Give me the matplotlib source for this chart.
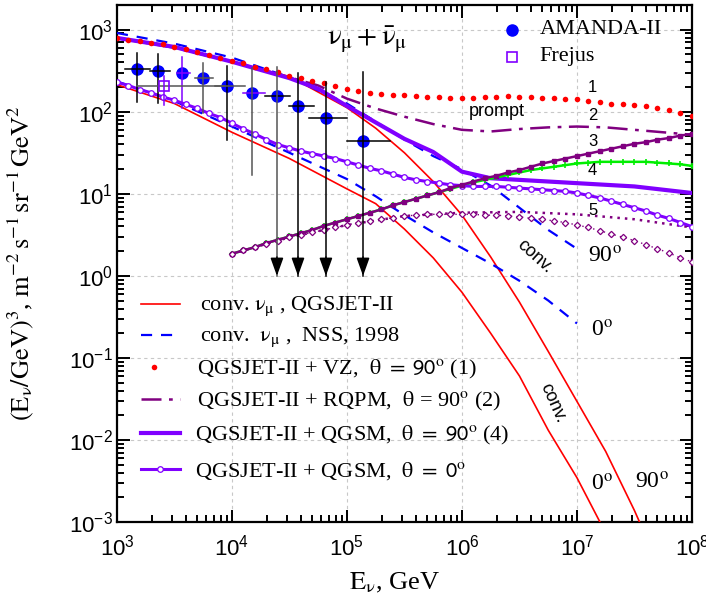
import numpy as np
import matplotlib
matplotlib.use('Agg')
import matplotlib.pyplot as plt
from matplotlib.ticker import LogLocator, NullFormatter
from matplotlib.lines import Line2D

plt.rcParams.update({
    'font.family': 'Liberation Sans',
    'mathtext.fontset': 'stix',
    'font.size': 15,
})

SERIF = 'Liberation Serif'
RED = '#ff0000'
BLUE = '#0000ff'
PURPLE = '#800080'
VIOLET = '#8000ff'
GREEN = '#00ee00'
GRAY = '#555555'

# ── curves: log10(E/GeV) and log10 of E^3 * flux ──────────────
lgE_conv = [3.0, 3.5, 4.0, 4.5, 5.0, 5.25, 5.5, 5.75, 6.0, 6.25, 6.5, 6.75, 7.0, 7.25, 7.5, 7.56]
conv_qgs_90 = [2.90, 2.78, 2.61, 2.43, 2.05, 1.80, 1.50, 1.15, 0.74, 0.23, -0.32, -0.92, -1.53, -2.14, -2.86, -3.05]

lgE_conv0 = [3.0, 3.5, 4.0, 4.5, 5.0, 5.25, 5.5, 5.75, 6.0, 6.25, 6.5, 6.75, 7.0, 7.2]
conv_qgs_0 = [2.33, 2.10, 1.75, 1.43, 1.06, 0.88, 0.57, 0.22, -0.20, -0.70, -1.22, -1.88, -2.46, -3.0]

lgE_nss = [3.0, 3.5, 4.0, 4.5, 5.0, 5.25, 5.5, 5.75, 6.0, 6.25, 6.5, 6.75, 7.0]
conv_nss_90 = [2.96, 2.83, 2.66, 2.42, 2.10, 1.88, 1.66, 1.46, 1.30, 1.10, 0.83, 0.56, 0.33]
conv_nss_0 = [2.37, 2.13, 1.82, 1.50, 1.18, 0.97, 0.74, 0.53, 0.34, 0.15, -0.06, -0.30, -0.58]

lgE_tot = [3.0, 3.5, 4.0, 4.5, 4.75, 5.0, 5.25, 5.5, 5.75, 6.0, 6.25, 6.5, 6.75, 7.0, 7.25, 7.5, 7.75, 8.0]
rqpm_90 = [2.90, 2.78, 2.61, 2.42, 2.32, 2.16, 2.04, 1.94, 1.85, 1.78, 1.76, 1.79, 1.81, 1.82, 1.81, 1.78, 1.75, 1.72]
qgsm_90 = [2.90, 2.79, 2.61, 2.41, 2.28, 2.07, 1.87, 1.67, 1.51, 1.27, 1.19, 1.17, 1.15, 1.13, 1.11, 1.09, 1.05, 1.01]

# marker curves, read every 0.1 decade
lgE_fine = np.round(np.arange(3.0, 8.01, 0.1), 1)
vz_90 = [2.90, 2.88, 2.86, 2.84, 2.82, 2.79, 2.76, 2.73, 2.69, 2.66,
         2.62, 2.59, 2.55, 2.52, 2.48, 2.44, 2.41, 2.38, 2.35, 2.31,
         2.28, 2.25, 2.23, 2.22, 2.21, 2.20, 2.19, 2.18, 2.18, 2.17,
         2.17, 2.17, 2.18, 2.18, 2.19, 2.18, 2.18, 2.17, 2.17, 2.16,
         2.15, 2.13, 2.12, 2.10, 2.09, 2.08, 2.07, 2.05, 2.02, 1.99, 1.95]
qgsm_0 = [2.36, 2.32, 2.27, 2.23, 2.18, 2.14, 2.09, 2.04, 1.98, 1.93,
          1.86, 1.79, 1.73, 1.66, 1.60, 1.56, 1.52, 1.49, 1.46, 1.43,
          1.39, 1.35, 1.31, 1.28, 1.24, 1.20, 1.17, 1.15, 1.13, 1.11,
          1.10, 1.09, 1.09, 1.09, 1.08, 1.07, 1.06, 1.05, 1.04, 1.03,
          1.01, 0.98, 0.95, 0.91, 0.87, 0.83, 0.79, 0.74, 0.70, 0.65, 0.60]

# prompt-only curves (3, 4, 5), from 10^4 GeV
lgE_pr = np.round(np.arange(4.0, 8.01, 0.1), 1)
prompt_3 = [0.27, 0.31, 0.35, 0.40, 0.44, 0.48, 0.52, 0.56, 0.61, 0.65,
            0.69, 0.73, 0.77, 0.81, 0.86, 0.90, 0.94, 0.98, 1.02, 1.07,
            1.11, 1.15, 1.19, 1.22, 1.26, 1.29, 1.33, 1.37, 1.40, 1.43,
            1.46, 1.49, 1.52, 1.55, 1.58, 1.61, 1.63, 1.66, 1.68, 1.71, 1.73]
prompt_4 = [0.27, 0.31, 0.35, 0.40, 0.44, 0.48, 0.52, 0.56, 0.61, 0.65,
            0.69, 0.73, 0.77, 0.81, 0.86, 0.90, 0.94, 0.98, 1.02, 1.06,
            1.10, 1.14, 1.17, 1.20, 1.23, 1.26, 1.29, 1.31, 1.33, 1.35,
            1.37, 1.38, 1.39, 1.39, 1.39, 1.39, 1.39, 1.38, 1.37, 1.36, 1.34]
prompt_5d = [0.27, 0.31, 0.35, 0.39, 0.43, 0.47, 0.50, 0.53, 0.56, 0.59,
             0.62, 0.65, 0.67, 0.69, 0.71, 0.73, 0.74, 0.75, 0.75, 0.75,
             0.75, 0.75, 0.74, 0.74, 0.73, 0.72, 0.70, 0.69, 0.67, 0.65,
             0.62, 0.59, 0.55, 0.51, 0.47, 0.43, 0.38, 0.33, 0.28, 0.22, 0.17]
lgE_p5 = [4.0, 4.5, 5.0, 5.5, 6.0, 6.5, 7.0, 7.5, 8.0]
prompt_5 = [0.27, 0.47, 0.62, 0.73, 0.77, 0.78, 0.75, 0.69, 0.59]

# ── AMANDA-II unfolded spectrum ──────────────────────────────
am_E = [1490, 2280, 3670, 5600, 9060, 14900, 24600, 37500, 65600, 138000]
am_F = [334, 316, 299, 260, 208, 171, 157, 118, 84.5, 44.3]
am_Elo = [1170, 1940, 3330, 4770, 7120, 12500, 19400, 31300, 46800, 100000]
am_Ehi = [1940, 2890, 4310, 6840, 13000, 19400, 31900, 51600, 100000, 237000]
am_Flo = [132, 129, 112, 97, 45, 17, 1.0, 1.0, 1.0, 1.0]
am_Fhi = [525, 509, 469, 396, 365, 344, 354, 299, 232, 308]
am_limit = [False] * 6 + [True] * 4
am_xcol = ['k', 'k', VIOLET, GRAY, GRAY, VIOLET, 'k', 'k', 'k', 'k']
am_ycol = ['k', 'k', VIOLET, GRAY, 'k', GRAY, GRAY, 'k', 'k', 'k']

fr_E, fr_F = 2570, 208
fr_Elo, fr_Ehi = 1490, 9230
fr_Flo, fr_Fhi = 122, 274


def p(lg):
    return 10 ** np.asarray(lg, dtype=float)


fig = plt.figure(figsize=(7.06, 5.99), dpi=100)
ax = fig.add_axes([0.1657, 0.1285, 0.8144, 0.8631])
ax.set_xscale('log')
ax.set_yscale('log')
ax.set_xlim(1e3, 1e8)
ax.set_ylim(1e-3, 2.0e3)

ax.grid(True, which='major', color='#c8c8c8', linestyle=(0, (3, 3)), linewidth=0.8)

# conventional
ax.plot(p(lgE_conv), p(conv_qgs_90), color=RED, lw=1.2, zorder=3)
ax.plot(p(lgE_conv0), p(conv_qgs_0), color=RED, lw=1.2, zorder=3)
ax.plot(p(lgE_nss), p(conv_nss_90), color=BLUE, lw=1.6, dashes=(5, 4), zorder=3)
ax.plot(p(lgE_nss), p(conv_nss_0), color=BLUE, lw=1.6, dashes=(5, 4), zorder=3)

# conventional + prompt
ax.plot(p(lgE_fine), p(vz_90), ls='none', marker='o', ms=4, color=RED, mec='none', zorder=4)
ax.plot(p(lgE_tot), p(rqpm_90), color=PURPLE, lw=1.8, dashes=(8, 3, 1.5, 3), zorder=3)
ax.plot(p(lgE_tot), p(qgsm_90), color=VIOLET, lw=3.0, zorder=3)
ax.plot(p(lgE_fine), p(qgsm_0), color=VIOLET, lw=2.2, marker='o', ms=4, mfc='white',
        mec=VIOLET, mew=0.9, zorder=4)

# prompt only
ax.plot(p(lgE_pr), p(prompt_4), color=GREEN, lw=1.8, marker='+', ms=5, mew=1.2, zorder=3)
ax.plot(p(lgE_pr), p(prompt_3), color=PURPLE, lw=1.8, marker='s', ms=3.5, zorder=4)
ax.plot(p(lgE_p5), p(prompt_5), color=PURPLE, lw=1.8, dashes=(1, 2), zorder=3)
ax.plot(p(lgE_pr), p(prompt_5d), color=PURPLE, ls=(0, (1, 3)), lw=1.0, marker='D', ms=3.2,
        mfc='white', mec=PURPLE, mew=0.9, zorder=4)

# AMANDA-II points, bars drawn over the markers
ax.plot(am_E, am_F, ls='none', marker='o', ms=8, color=BLUE, zorder=5)
for i in range(len(am_E)):
    ax.plot([am_Elo[i], am_Ehi[i]], [am_F[i], am_F[i]], color=am_xcol[i], lw=1.1, zorder=6)
    ax.plot([am_E[i], am_E[i]], [am_Flo[i], am_Fhi[i]], color=am_ycol[i], lw=1.1, zorder=6)
    if am_limit[i]:
        ax.annotate('', xy=(am_E[i], 1.0), xytext=(am_E[i], 1.7),
                    arrowprops=dict(arrowstyle='-|>,head_length=1.0,head_width=0.36',
                                    mutation_scale=11, color='k', lw=1.1,
                                    shrinkA=0, shrinkB=0), zorder=6)

ax.plot([fr_Elo, fr_Ehi], [fr_F, fr_F], color=GRAY, lw=1.1, zorder=6)
ax.plot([fr_E, fr_E], [fr_Flo, fr_Fhi], color=VIOLET, lw=1.1, zorder=6)
ax.plot(fr_E, fr_F, ls='none', marker='s', ms=7.5, mfc='none', mec=VIOLET, mew=1.2, zorder=7)

# curve labels
ax.text(1.5e5, 750, r'$\mathrm{\nu}_\mathrm{\mu}+\bar{\mathrm{\nu}}_\mathrm{\mu}$', fontsize=21,
        ha='center', va='center')
ax.text(2.0e6, 100, 'prompt', fontsize=13, ha='center', va='center')
for lab, y in zip(['1', '2', '3', '4', '5'], [200, 89, 43, 19.5, 6.3]):
    ax.text(1.37e7, y, lab, fontsize=12, ha='center', va='center')
ax.text(4.3e6, 1.7, 'conv.', fontsize=13, rotation=-42, ha='center', va='center')
ax.text(6.2e6, 0.028, 'conv.', fontsize=13, rotation=-66, ha='center', va='center')
deg = r'$^{\rm o}$'
ax.text(1.75e7, 1.7, '90' + deg, fontsize=17, family=SERIF, ha='center', va='center')
ax.text(1.66e7, 0.21, '0' + deg, fontsize=17, family=SERIF, ha='center', va='center')
ax.text(1.66e7, 0.0028, '0' + deg, fontsize=17, family=SERIF, ha='center', va='center')
ax.text(4.5e7, 0.003, '90' + deg, fontsize=17, family=SERIF, ha='center', va='center')

# data legend (top right)
ax.plot([0.687], [0.952], transform=ax.transAxes, ls='none', marker='o', ms=8, color=BLUE)
ax.plot([0.687], [0.9], transform=ax.transAxes, ls='none', marker='s', ms=7.5,
        mfc='none', mec=VIOLET, mew=1.2)
ax.text(0.735, 0.952, 'AMANDA-II', transform=ax.transAxes, fontsize=16, family=SERIF, va='center')
ax.text(0.735, 0.9, 'Frejus', transform=ax.transAxes, fontsize=16, family=SERIF, va='center')

# model legend (lower left)
th = r'$\mathrm{\theta}$'
rows = [
    (dict(color=RED, lw=1.2), r'conv. $\mathrm{\nu}_\mathrm{\mu}$ , QGSJET-II', 0.144),
    (dict(color=BLUE, lw=1.6, dashes=(5, 4)), r'conv.  $\mathrm{\nu}_\mathrm{\mu}$ ,  NSS, 1998', 0.144),
    (dict(ls='none', marker='o', ms=4, color=RED, mec='none'),
     'QGSJET-II + VZ,  ' + th + r' $\mathsf{=\ 90}^{\rm o}$ (1)', 0.139),
    (dict(color=PURPLE, lw=1.8, dashes=(8, 3, 1.5, 3)),
     'QGSJET-II + RQPM,  ' + th + r' = 90$^{\rm o}$ (2)', 0.139),
    (dict(color=VIOLET, lw=3.0), 'QGSJET-II + QGSM,  ' + th + r' $\mathsf{=\ 90}^{\rm o}$ (4)', 0.136),
    (dict(color=VIOLET, lw=2.2, marker='o', ms=4, mfc='white', mec=VIOLET, mew=0.9, markevery=[1]),
     'QGSJET-II + QGSM,  ' + th + r' $\mathsf{=\ 0}^{\rm o}$', 0.136),
]
row_y = [0.4217, 0.3617, 0.2998, 0.2379, 0.1721, 0.1025]
for (style, label, tx), y in zip(rows, row_y):
    if style.get('ls') == 'none':
        ax.add_line(Line2D([0.064], [y], transform=ax.transAxes, **style))
    else:
        ax.add_line(Line2D([0.042, 0.075, 0.110], [y, y, y], transform=ax.transAxes, **style))
    ax.text(tx, y - 0.004, label, transform=ax.transAxes, fontsize=16, family=SERIF, va='center')

# axes styling
for s in ax.spines.values():
    s.set_linewidth(1.6)
ax.xaxis.set_major_locator(LogLocator(base=10, numticks=10))
ax.xaxis.set_minor_locator(LogLocator(base=10, subs=np.arange(2, 10), numticks=10))
ax.yaxis.set_major_locator(LogLocator(base=10, numticks=10))
ax.yaxis.set_minor_locator(LogLocator(base=10, subs=np.arange(2, 10), numticks=10))
ax.xaxis.set_minor_formatter(NullFormatter())
ax.yaxis.set_minor_formatter(NullFormatter())
ax.tick_params(which='both', direction='in', top=True, right=True, width=1.4)
ax.tick_params(which='major', length=9, labelsize=16)
ax.tick_params(which='minor', length=5)
ax.tick_params(axis='x', which='major', pad=9)
ax.tick_params(axis='y', which='major', pad=3)

ax.set_xlabel(r'$\mathrm{E}_\mathrm{\nu}$, GeV', fontsize=19, family=SERIF)
ax.xaxis.set_label_coords(0.483, -0.095)
ax.set_ylabel(r'$(\mathrm{E}_\mathrm{\nu}/\mathrm{GeV})^3$, '
              r'$\mathrm{m}^{-2}\,\mathrm{s}^{-1}\,\mathrm{sr}^{-1}\,\mathrm{GeV}^{2}$',
              fontsize=19, family=SERIF)
ax.yaxis.set_label_coords(-0.14, 0.5)

fig.savefig('out.png', dpi=100)
